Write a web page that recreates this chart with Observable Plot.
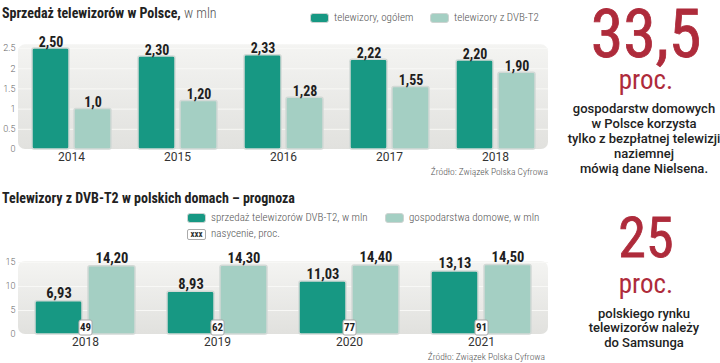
<!DOCTYPE html>
<html><head><meta charset="utf-8">
<script src="https://cdn.jsdelivr.net/npm/d3@7"></script>
<script src="https://cdn.jsdelivr.net/npm/@observablehq/plot@0.6"></script>
<style>
body{margin:0;background:#fff;width:720px;height:363px;overflow:hidden;position:relative;font-family:"Roboto Condensed",Roboto,sans-serif;color:#222;}
.abs{position:absolute;white-space:nowrap;}
.title{font-size:14px;font-weight:bold;line-height:16px;color:#222;}
.unit{font-weight:300;color:#555;}
.leg{font-family:"Roboto Condensed",sans-serif;font-weight:300;font-size:11px;color:#555;line-height:12px;display:flex;align-items:center;}
.sw{display:inline-block;box-sizing:border-box;width:19px;height:10px;border:1px solid #cdd4d1;border-radius:3px;margin-right:5px;}
.xbox{display:inline-block;box-sizing:border-box;width:19px;height:11px;border:1px solid #aaa;border-radius:2px;margin-right:5px;font-weight:bold;font-size:9px;line-height:9px;text-align:center;color:#333;}
.src{font-family:"Roboto Condensed",sans-serif;font-weight:300;font-size:9.5px;color:#555;}
.big{color:#ae2b3b;text-align:center;width:160px;left:566px;font-family:"Roboto Condensed",sans-serif;-webkit-text-stroke:0.8px #ae2b3b;}
.proc{-webkit-text-stroke:0;}
.note{font-family:Roboto,sans-serif;font-weight:500;font-size:13px;line-height:15px;color:#222;text-align:center;width:160px;left:564px;}
svg.plot{background:transparent;overflow:visible;}
</style></head><body>
<svg width="0" height="0" style="position:absolute"><defs>
<linearGradient id="panelGrad" x1="0" y1="0" x2="0" y2="1"><stop offset="0" stop-color="#f4f4f2"/><stop offset="1" stop-color="#e1e1de"/></linearGradient>
</defs></svg>

<div class="abs title" style="left:2px;top:5px">Sprzedaż telewizorów w Polsce,<span class="unit"> w mln</span></div>
<div class="abs leg" id="leg1a" style="left:310px;top:12px"></div>
<div class="abs leg" id="leg1b" style="left:430px;top:12px"></div>
<div class="abs" id="c1b" style="left:0;top:30px"></div>
<div class="abs" id="c1" style="left:0;top:30px"></div>
<div class="abs src" style="right:172px;top:166px">Źródło: Związek Polska Cyfrowa</div>

<div class="abs title" style="left:2px;top:190px">Telewizory z DVB-T2 w polskich domach – prognoza</div>
<div class="abs leg" id="leg2a" style="left:187px;top:212px"></div>
<div class="abs leg" id="leg2b" style="left:385px;top:212px"></div>
<div class="abs leg" id="leg3" style="left:187px;top:228px"></div>
<div class="abs" id="c2b" style="left:0;top:240px"></div>
<div class="abs" id="c2" style="left:0;top:240px"></div>
<div class="abs src" style="right:175px;top:351px">Źródło: Związek Polska Cyfrowa</div>

<div class="abs big" style="top:10.5px;font-size:66px;line-height:48px">33,5</div>
<div class="abs big proc" style="top:70px;font-size:27px;line-height:20px">proc.</div>
<div class="abs note" style="top:101px">gospodarstw domowych<br>w Polsce korzysta<br>tylko z bezpłatnej telewizji<br>naziemnej<br>mówią dane Nielsena.</div>

<div class="abs big" style="top:217px;font-size:56px;line-height:42px">25</div>
<div class="abs big proc" style="top:274px;font-size:27px;line-height:20px">proc.</div>
<div class="abs note" style="top:306.5px;line-height:14.5px">polskiego rynku<br>telewizorów należy<br>do Samsunga</div>

<script>
// ---- data: top chart ----
const years1 = ["2014", "2015", "2016", "2017", "2018"];
const series1 = ["telewizory, ogółem", "telewizory z DVB-T2"];
const tvTotal = [2.50, 2.30, 2.33, 2.22, 2.20];
const tvDvb = [1.0, 1.20, 1.28, 1.55, 1.90];
const labelsTotal = ["2,50", "2,30", "2,33", "2,22", "2,20"];
const labelsDvb = ["1,0", "1,20", "1,28", "1,55", "1,90"];
const yTicks1 = [0, 0.5, 1, 1.5, 2, 2.5];
const yTickLabels1 = ["0", "0.5", "1", "1.5", "2", "2.5"];

// ---- data: bottom chart ----
const years2 = ["2018", "2019", "2020", "2021"];
const series2 = ["sprzedaż telewizorów DVB-T2, w mln", "gospodarstwa domowe, w mln"];
const salesDvb = [6.93, 8.93, 11.03, 13.13];
const households = [14.20, 14.30, 14.40, 14.50];
const labelsSales = ["6,93", "8,93", "11,03", "13,13"];
const labelsHouse = ["14,20", "14,30", "14,40", "14,50"];
const saturation = [49, 62, 77, 91];
const saturationLegend = "nasycenie, proc.";
const yTicks2 = [0, 5, 10, 15];
const yTickLabels2 = ["0", "5", "10", "15"];

const dark = "#179883", light = "#a4cfc3", barStroke = "#d2d9d6";
const narrow = '"Roboto Condensed",Roboto,sans-serif';

function makeRows(years, series, a, b, la, lb) {
  return years.flatMap((y, i) => [
    {year: y, series: series[0], value: a[i], label: la[i]},
    {year: y, series: series[1], value: b[i], label: lb[i]}
  ]);
}
const rows1 = makeRows(years1, series1, tvTotal, tvDvb, labelsTotal, labelsDvb);
const rows2 = makeRows(years2, series2, salesDvb, households, labelsSales, labelsHouse);
const satRows = years2.map((y, i) => ({year: y, sat: saturation[i]}));

const boxSymbol = {
  draw(ctx, size) {
    const r = Math.sqrt(size / Math.PI);
    const w = 0.82 * r, h = 0.94 * r, c = 2;
    ctx.moveTo(-w + c, -h);
    ctx.lineTo(w - c, -h); ctx.arcTo(w, -h, w, -h + c, c);
    ctx.lineTo(w, h - c); ctx.arcTo(w, h, w - c, h, c);
    ctx.lineTo(-w + c, h); ctx.arcTo(-w, h, -w, h - c, c);
    ctx.lineTo(-w, -h + c); ctx.arcTo(-w, -h, -w + c, -h, c);
    ctx.closePath();
  }
};

function dims(o) {
  return {width: 560, height: o.height, marginLeft: 18, marginRight: 12, marginTop: o.marginTop, marginBottom: o.marginBottom,
    style: {fontFamily: narrow, background: "transparent", overflow: "visible"}};
}
function background(o) {
  return Plot.plot({
    ...dims(o),
    x: {axis: null}, y: {domain: [0, o.yMax], axis: null},
    marks: [
      Plot.rect([o.panelTop], {y1: 0, y2: d => d, rx: 7, fill: "url(#panelGrad)"}),
      Plot.ruleY(o.ticks.filter(d => d > 0), {stroke: "#f8f8f6", strokeWidth: 1}),
      Plot.text(o.ticks, {y: d => d, text: (d, i) => o.tickLabels[i], frameAnchor: "left", textAnchor: "end", dx: -3, fontSize: 9, fill: "#666", fontFamily: "Roboto,sans-serif", fontWeight: 300})
    ]
  });
}
function chart(o) {
  return Plot.plot({
    ...dims(o),
    fx: {domain: o.years, paddingInner: 0.245, paddingOuter: 0.1225, label: null, axis: null},
    x: {domain: o.series, paddingInner: 0.12, paddingOuter: 0, axis: null},
    y: {domain: [0, o.yMax], axis: null},
    color: {domain: o.series, range: [dark, light]},
    marks: [
      Plot.axisFx({anchor: "bottom", tickSize: 0, tickPadding: o.yearPad, fontSize: 12, fill: "#333", fontFamily: "Roboto,sans-serif", label: null}),
      Plot.barY(o.rows, {fx: "year", x: "series", y: "value", fill: "series", stroke: barStroke, strokeWidth: 1.5, rx: 2}),
      Plot.text(o.rows, {fx: "year", x: "series", y: "value", text: "label", dy: o.labelDy, lineAnchor: "bottom", fontSize: o.labelSize, fontWeight: "bold", fill: "#1e1e1e"}),
      ...(o.extra || [])
    ]
  });
}

const opt1 = {rows: rows1, years: years1, series: series1, yMax: 2.5, panelTop: 2.59,
  ticks: yTicks1, tickLabels: yTickLabels1, height: 145, marginTop: 18, marginBottom: 26,
  labelSize: 14, labelDy: -2, yearPad: 3};
const opt2 = {rows: rows2, years: years2, series: series2, yMax: 15, panelTop: 15.2,
  ticks: yTicks2, tickLabels: yTickLabels2, height: 115, marginTop: 22, marginBottom: 21,
  labelSize: 14.5, labelDy: -3, yearPad: 3,
  extra: [
    Plot.dot(satRows, {fx: "year", y: 0, dy: -7, r: 8, symbol: boxSymbol, fill: "white", stroke: "#a9a9a9", strokeWidth: 1}),
    Plot.text(satRows, {fx: "year", y: 0, dy: -7, text: d => String(d.sat), fontSize: 11, fontWeight: "bold", fill: "#222"})
  ]};
document.getElementById("c1b").append(background(opt1));
document.getElementById("c1").append(chart(opt1));
document.getElementById("c2b").append(background(opt2));
document.getElementById("c2").append(chart(opt2));

// legends
function legendItem(id, label, color) {
  const el = document.getElementById(id);
  const sw = document.createElement("span"); sw.className = "sw"; sw.style.background = color;
  el.append(sw, document.createTextNode(label));
}
legendItem("leg1a", series1[0], dark);
legendItem("leg1b", series1[1], light);
legendItem("leg2a", series2[0], dark);
legendItem("leg2b", series2[1], light);
const xb = document.createElement("span"); xb.className = "xbox"; xb.textContent = "xxx";
document.getElementById("leg3").append(xb, document.createTextNode(saturationLegend));
</script>
</body></html>
